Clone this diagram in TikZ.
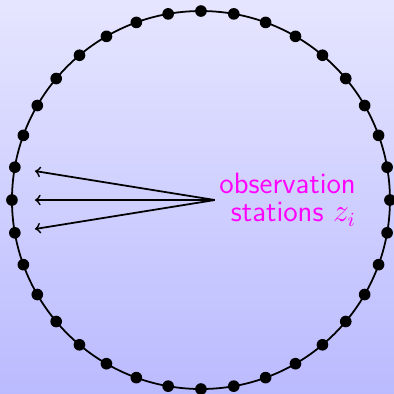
\documentclass[tikz,border=0pt]{standalone}
\usetikzlibrary{positioning}
\definecolor{stationpink}{RGB}{255,0,255}

\begin{document}
\begin{tikzpicture}[
    station/.style={circle, fill=black, minimum size=1.85mm, inner sep=0pt},
    label/.style={text=stationpink, align=right, font=\sffamily\fontsize{13.3pt}{12.6pt}\selectfont, inner sep=0pt},
    thick
  ]
  % background
  \shade[top color=blue!10, bottom color=blue!27] (-3.190,-3.079) rectangle (3.063,3.175);
  \useasboundingbox (-3.190,-3.079) rectangle (3.063,3.175);
  \draw (0,0) circle (3);
  \foreach \i in {0,...,35}
    \node[station] (s\i) at (\i*10:3) {};
  \coordinate (apex) at (0.22,0);
  \node[label, anchor=west] (obs) at (0.28,0) {observation\\stations $z_i$};
  \coordinate (t1) at (-2.635,0.46);
  \coordinate (t2) at (-2.635,0);
  \coordinate (t3) at (-2.635,-0.46);
  \draw[->] (apex) -- (t1);
  \draw[->] (apex) -- (t2);
  \draw[->] (apex) -- (t3);
\end{tikzpicture}
\end{document}
